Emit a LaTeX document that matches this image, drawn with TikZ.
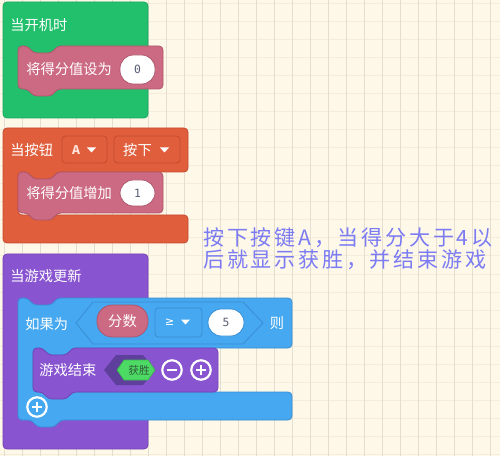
\documentclass[tikz,border=0pt]{standalone}
\usepackage{fontspec}
\setmainfont{Noto Sans CJK SC}
\newfontfamily\annotfont[LetterSpace=13]{Noto Sans CJK SC}
\newfontfamily\numfont{DejaVu Sans Mono}
\newfontfamily\symfont{DejaVu Sans}
\definecolor{bg}{HTML}{FEF8E8}
\definecolor{gridv}{HTML}{E6DDD2}
\definecolor{gridh}{HTML}{F5ECD9}
\definecolor{grn}{HTML}{22C06C}
\definecolor{grnd}{HTML}{1CA85D}
\definecolor{org}{HTML}{E05E3C}
\definecolor{orgd}{HTML}{C44B2F}
\definecolor{pnk}{HTML}{CC6983}
\definecolor{pnkd}{HTML}{AE566D}
\definecolor{pur}{HTML}{8854D0}
\definecolor{purd}{HTML}{7244B4}
\definecolor{blu}{HTML}{45A8F0}
\definecolor{blud}{HTML}{3A8ED2}
\definecolor{hexd}{HTML}{5E3F9C}
\definecolor{wingrn}{HTML}{4CD964}
\definecolor{numgray}{HTML}{575E75}
\definecolor{annot}{HTML}{7B7BF4}
\tikzset{
  blk/.style={line width=0.6pt, rounded corners=3pt},
  btxt/.style={text=white, inner sep=0pt, anchor=west, font=\fontsize{10.7}{12}\selectfont},
  numtxt/.style={text=numgray, inner sep=0pt, font=\numfont\fontsize{8.5}{10}\selectfont},
  pill/.style={line width=0.6pt, rounded corners=10pt},
  ddbox/.style={line width=0.6pt, rounded corners=2.5pt},
  atxt/.style={text=annot, inner sep=0pt, anchor=west, font=\annotfont\fontsize{15.8}{18}\selectfont},
  tri/.style={fill=white, draw=none},
  ring/.style={draw=white, line width=1.6pt},
  bar/.style={draw=white, line width=2.2pt}
}
\begin{document}
\begin{tikzpicture}[x=0.75pt,y=-0.75pt]
\useasboundingbox (0,0) rectangle (500,456);
\fill[bg] (0,0) rectangle (500,456);
\foreach \i in {0,...,25} \draw[gridh, line width=0.75pt] (0,{4+18*\i}) -- (500,{4+18*\i});
\foreach \i in {0,...,27} \draw[gridv, line width=0.75pt] ({4+18*\i},0) -- ({4+18*\i},456);

% ---------- green block ----------
\draw[blk, fill=grn, draw=grnd] (3,2) rectangle (148,118);
\node[btxt] (t1) at (10,25) {当开机时};
\draw[blk, fill=pnk, draw=pnkd] (18,46) -- (28,46) -- (33,53) -- (52,53) -- (57,46) -- (163,46) -- (163,89) -- (57,89) -- (52,96) -- (33,96) -- (28,89) -- (18,89) -- cycle;
\node[btxt] (t2) at (26,69) {将得分值设为};
\draw[pill, fill=white, draw=pnkd] (120,55) rectangle (155,84);
\node[numtxt] (n0) at (137.5,69.5) {0};

% ---------- orange block ----------
\draw[blk, fill=org, draw=orgd] (3,128) -- (188,128) -- (188,172) -- (57,172) -- (52,179) -- (33,179) -- (28,172) -- (18,172) -- (18,215) -- (188,215) -- (188,243) -- (3,243) -- cycle;
\node[btxt] (t3) at (10,150) {当按钮};
\draw[ddbox, fill=org, draw=orgd] (62,136) rectangle (107,163);
\node[inner sep=0pt, text={rgb,255:red,255;green,226;blue,218}, font=\fontsize{9}{10}\selectfont\bfseries] (dA) at (76,150) {A};
\fill[tri] (87,147.5) -- (96,147.5) -- (91.5,152.5) -- cycle;
\draw[ddbox, fill=org, draw=orgd] (114,136) rectangle (180,163);
\node[btxt, anchor=center] (dP) at (137.5,150) {按下};
\fill[tri] (160,147.5) -- (169,147.5) -- (164.5,152.5) -- cycle;
\draw[blk, fill=pnk, draw=pnkd] (18,172) -- (28,172) -- (33,179) -- (52,179) -- (57,172) -- (163,172) -- (163,213) -- (57,213) -- (52,220) -- (33,220) -- (28,213) -- (18,213) -- cycle;
\node[btxt] (t4) at (26,193) {将得分值增加};
\draw[pill, fill=white, draw=pnkd] (120,180) rectangle (155,206);
\node[numtxt] (n1) at (137.5,193.5) {1};

% ---------- purple block ----------
\draw[blk, fill=pur, draw=purd] (3,254) rectangle (148,449);
\node[btxt] (t5) at (10,276) {当游戏更新};
\draw[blk, fill=blu, draw=blud] (18,298) -- (28,298) -- (33,305) -- (52,305) -- (57,298) -- (292,298) -- (292,348) -- (72,348) -- (67,355) -- (48,355) -- (43,348) -- (33,348) -- (33,392) -- (292,392) -- (292,420) -- (60,420) -- (55,427) -- (37,427) -- (32,420) -- (18,420) -- cycle;
\node[btxt] (t6) at (25,324) {如果为};
\draw[line width=0.6pt, fill=blu, draw=blud, line join=round] (76,323) -- (93,302) -- (243,302) -- (263,323) -- (243,344) -- (93,344) -- cycle;
\draw[pill, rounded corners=11.5pt, fill=pnk, draw=pnkd] (97,305) rectangle (148,337);
\node[btxt, anchor=center] (t7) at (122.5,321) {分数};
\draw[ddbox, fill=blu, draw=blud] (155,308) rectangle (202,337);
\node[inner sep=0pt, text=white, font=\symfont\fontsize{8.5}{10}\selectfont] (ge) at (169.5,322) {≥};
\fill[tri] (181,319.5) -- (190,319.5) -- (185.5,324.5) -- cycle;
\draw[pill, fill=white, draw=blud] (208,309) rectangle (244,336);
\node[numtxt] (n5) at (226,322.5) {5};
\node[btxt, anchor=center] (t8) at (277,323) {则};

\draw[blk, fill=pur, draw=purd] (33,348) -- (43,348) -- (48,355) -- (67,355) -- (72,348) -- (218,348) -- (218,392) -- (72,392) -- (67,399) -- (48,399) -- (43,392) -- (33,392) -- cycle;
\node[btxt] (t9) at (39,370) {游戏结束};
\fill[hexd] (104,370) -- (116,355) -- (143,355) -- (155,370) -- (143,385) -- (116,385) -- cycle;
\draw[fill=wingrn, draw={rgb,255:red,60;green,180;blue,80}, line width=0.5pt] (117,370) -- (124,360) -- (148,360) -- (155,370) -- (148,380) -- (124,380) -- cycle;
\node[inner sep=0pt, text={rgb,255:red,50;green,90;blue,60}, font=\fontsize{8}{9}\selectfont] (t10) at (139,370) {获胜};
% minus icon
\draw[ring, fill=pur] (172,370) circle[radius=7.3pt];
\draw[bar] (167,370) -- (177,370);
% plus icon
\draw[ring, fill=pur] (201,370) circle[radius=7.3pt];
\draw[bar] (196,370) -- (206,370);
\draw[bar] (201,365) -- (201,375);
% blue plus
\draw[ring, fill=blu] (37,407) circle[radius=7.3pt];
\draw[bar] (32,407) -- (42,407);
\draw[bar] (37,402) -- (37,412);

% ---------- annotation ----------
\node[atxt] (a1) at (203,238) {按下按键A，当得分大于4以};
\node[atxt] (a2) at (203,260) {后就显示获胜，并结束游戏};
\end{tikzpicture}
\end{document}
